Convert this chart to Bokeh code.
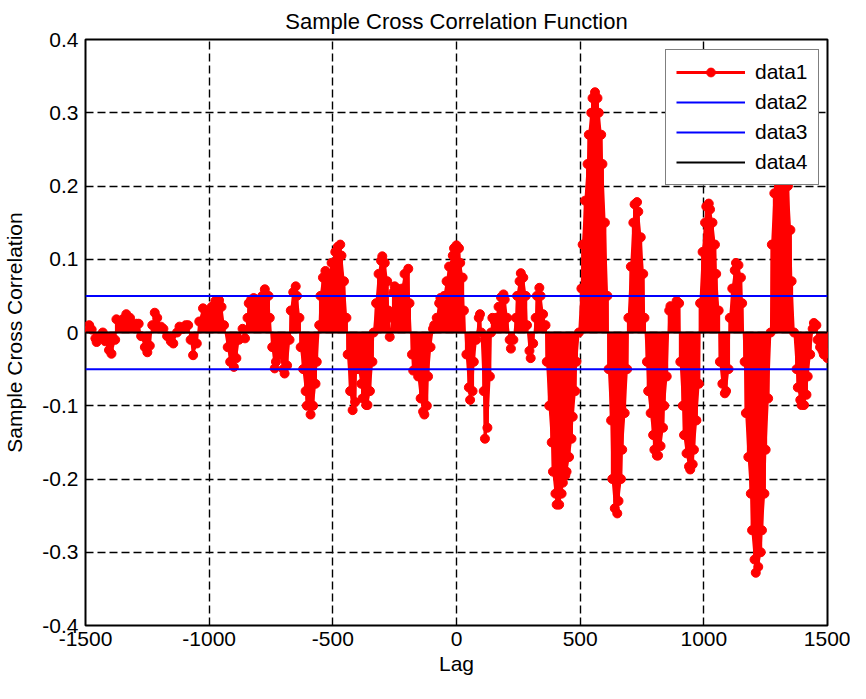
from bokeh.plotting import figure
from bokeh.models import Range1d, FixedTicker, Legend, LegendItem, ColumnDataSource
from bokeh.embed import file_html
from bokeh.resources import INLINE

# ---------------- data ----------------
lags = [
    -1500, -1485, -1475, -1460, -1455, -1440, -1430, -1420, -1405, -1395,
    -1380, -1375, -1360, -1350, -1335, -1320, -1310, -1295, -1285, -1275,
    -1260, -1250, -1240, -1230, -1220, -1210, -1195, -1185, -1170, -1155,
    -1145, -1130, -1120, -1105, -1095, -1085, -1075, -1065, -1050, -1040,
    -1025, -1015, -1005, -990, -975, -960, -950, -940, -925, -915,
    -900, -890, -880, -865, -855, -845, -840, -830, -820, -810,
    -795, -785, -775, -760, -755, -745, -735, -730, -720, -715,
    -700, -695, -685, -675, -670, -660, -650, -645, -635, -630,
    -620, -610, -605, -590, -580, -570, -565, -555, -550, -540,
    -530, -520, -510, -505, -490, -480, -470, -465, -455, -445,
    -440, -430, -420, -410, -405, -395, -385, -380, -365, -360,
    -350, -340, -335, -325, -315, -305, -300, -290, -280, -275,
    -270, -260, -255, -250, -240, -235, -220, -210, -195, -190,
    -180, -175, -165, -155, -145, -135, -130, -120, -115, -105,
    -95, -90, -80, -70, -65, -55, -50, -40, -30, -15,
    -10, 0, 10, 15, 25, 30, 40, 50, 55, 65,
    70, 80, 90, 95, 100, 110, 115, 125, 135, 140,
    145, 155, 160, 170, 180, 190, 195, 205, 215, 220,
    230, 240, 245, 255, 260, 270, 280, 285, 295, 300,
    310, 320, 325, 335, 340, 350, 360, 365, 375, 385,
    390, 400, 405, 415, 425, 430, 440, 445, 455, 465,
    470, 480, 485, 495, 505, 510, 520, 530, 535, 545,
    550, 560, 570, 575, 585, 590, 600, 610, 615, 625,
    630, 640, 650, 655, 665, 670, 680, 690, 695, 705,
    715, 720, 730, 735, 745, 755, 760, 770, 775, 785,
    795, 800, 810, 815, 825, 835, 840, 850, 860, 865,
    875, 880, 890, 900, 905, 915, 920, 930, 940, 945,
    955, 960, 970, 980, 985, 995, 1005, 1010, 1020, 1025,
    1035, 1045, 1050, 1060, 1065, 1075, 1085, 1090, 1100, 1105,
    1115, 1125, 1130, 1140, 1150, 1155, 1165, 1170, 1180, 1190,
    1195, 1205, 1210, 1220, 1230, 1235, 1245, 1250, 1260, 1270,
    1275, 1285, 1295, 1300, 1310, 1315, 1325, 1335, 1340, 1350,
    1355, 1365, 1375, 1380, 1390, 1395, 1405, 1415, 1420, 1430,
    1440, 1445, 1455, 1460, 1470, 1480, 1485, 1495, 1500,
]

xcf = [
    0.008, 0.010, 0.004, -0.008, -0.013, -0.006, 0.000, -0.012, -0.024, -0.029,
    -0.010, 0.018, 0.010, 0.018, 0.025, 0.020, 0.010, 0.012, 0.012, -0.005,
    -0.020, -0.027, -0.018, 0.010, 0.027, 0.020, 0.008, 0.005, -0.005, -0.012,
    -0.015, 0.000, 0.008, 0.005, 0.010, 0.010, -0.010, -0.031, -0.015, 0.015,
    0.033, 0.030, 0.020, 0.035, 0.043, 0.044, 0.035, 0.010, -0.020, -0.040,
    -0.047, -0.035, -0.010, 0.005, -0.008, 0.020, 0.040, 0.045, 0.047, 0.045,
    0.040, 0.050, 0.059, 0.050, 0.020, -0.020, -0.049, -0.040, -0.020, -0.030,
    -0.050, -0.056, -0.045, -0.010, 0.030, 0.055, 0.063, 0.050, 0.020, -0.020,
    -0.050, -0.080, -0.100, -0.112, -0.100, -0.070, -0.040, 0.010, 0.050, 0.075,
    0.084, 0.075, 0.080, 0.095, 0.110, 0.117, 0.120, 0.105, 0.070, 0.020,
    -0.030, -0.080, -0.106, -0.095, -0.050, -0.050, -0.070, -0.090, -0.099, -0.099,
    -0.080, -0.040, 0.000, 0.040, 0.080, 0.098, 0.104, 0.095, 0.070, 0.030,
    -0.006, 0.020, 0.055, 0.063, 0.060, 0.050, 0.060, 0.080, 0.087, 0.040,
    -0.030, -0.052, -0.050, -0.060, -0.090, -0.108, -0.112, -0.100, -0.060, -0.020,
    0.005, 0.010, 0.020, 0.040, 0.047, 0.040, 0.050, 0.070, 0.090, 0.105,
    0.115, 0.119, 0.115, 0.095, 0.075, 0.030, -0.030, -0.075, -0.092, -0.080,
    -0.040, -0.010, 0.020, 0.025, 0.000, -0.080, -0.145, -0.130, -0.060, 0.000,
    0.020, 0.015, 0.020, 0.035, 0.048, 0.052, 0.045, 0.020, -0.010, -0.022,
    -0.010, 0.020, 0.050, 0.070, 0.081, 0.075, 0.050, 0.010, -0.025, -0.035,
    -0.015, 0.020, 0.050, 0.061, 0.050, 0.025, 0.010, -0.040, -0.100, -0.150,
    -0.190, -0.220, -0.235, -0.235, -0.220, -0.205, -0.195, -0.190, -0.170, -0.145,
    -0.115, -0.080, -0.040, 0.000, 0.060, 0.120, 0.180, 0.230, 0.270, 0.300,
    0.320, 0.328, 0.320, 0.300, 0.270, 0.230, 0.150, 0.050, -0.050, -0.120,
    -0.200, -0.240, -0.247, -0.230, -0.200, -0.160, -0.110, -0.050, 0.020, 0.090,
    0.150, 0.175, 0.178, 0.165, 0.130, 0.080, 0.020, -0.040, -0.080, -0.110,
    -0.140, -0.160, -0.168, -0.168, -0.155, -0.130, -0.100, -0.060, 0.030, 0.036,
    0.030, 0.035, 0.043, 0.040, -0.040, -0.100, -0.140, -0.165, -0.183, -0.187,
    -0.180, -0.160, -0.120, -0.070, 0.040, 0.110, 0.150, 0.172, 0.176, 0.168,
    0.150, 0.120, 0.080, 0.030, -0.040, -0.070, -0.083, -0.080, -0.050, 0.020,
    0.060, 0.085, 0.095, 0.092, 0.075, 0.040, -0.040, -0.110, -0.170, -0.220,
    -0.270, -0.310, -0.328, -0.320, -0.300, -0.270, -0.220, -0.160, -0.090, 0.000,
    0.120, 0.190, 0.240, 0.280, 0.300, 0.300, 0.285, 0.250, 0.200, 0.140,
    0.070, 0.000, -0.050, -0.075, -0.092, -0.099, -0.099, -0.085, -0.060, -0.030,
    0.005, 0.013, 0.010, -0.010, -0.020, -0.025, -0.030, -0.028, -0.035,
]

lag_limits = [-1500, 1500]
upper_bound = [0.05, 0.05]
lower_bound = [-0.05, -0.05]
zero_level = [0.0, 0.0]

x_ticks = [-1500, -1000, -500, 0, 500, 1000, 1500]
x_tick_labels = ["-1500", "-1000", "-500", "0", "500", "1000", "1500"]
y_ticks = [-0.4, -0.3, -0.2, -0.1, 0, 0.1, 0.2, 0.3, 0.4]
y_tick_labels = ["-0.4", "-0.3", "-0.2", "-0.1", "0", "0.1", "0.2", "0.3", "0.4"]

assert len(lags) == len(xcf)

# ---------------- figure ----------------
FONT = "Liberation Sans"
FS = "21px"

p = figure(width=850, height=683, output_backend="svg", toolbar_location=None,
           x_range=Range1d(-1500, 1500), y_range=Range1d(-0.4, 0.4),
           min_border_left=82, min_border_right=23, min_border_top=38,
           min_border_bottom=58)

p.background_fill_color = "white"
p.border_fill_color = "white"
p.outline_line_color = "black"
p.outline_line_width = 2

p.title.text = "Sample Cross Correlation Function"
p.title.align = "center"
p.title.text_font = FONT
p.title.text_font_size = "22px"
p.title.text_font_style = "normal"
p.title.text_color = "black"
p.title.standoff = 12

src = ColumnDataSource(data=dict(lag=lags, xcf=xcf))

red = "#ff0000"
# filled area between the correlation curve and zero (closed along the zero line)
fill_x = lags + lag_limits[::-1]
fill_y = xcf + zero_level
fill_r = p.patch(x=fill_x, y=fill_y, fill_color=red, fill_alpha=1.0, line_color=red, line_width=1.5)
stem_r = p.segment(x0="lag", y0=0, x1="lag", y1="xcf", source=src,
                   line_color=red, line_width=3)
dot_r = p.scatter(x="lag", y="xcf", source=src, marker="circle", size=9,
                  fill_color=red, line_color=red)

blue = "#0000ff"
up_r = p.line(x=lag_limits, y=upper_bound, line_color=blue, line_width=2)
lo_r = p.line(x=lag_limits, y=lower_bound, line_color=blue, line_width=2)
zero_r = p.line(x=lag_limits, y=zero_level, line_color="black", line_width=2)

# axes
p.xaxis.ticker = FixedTicker(ticks=x_ticks)
p.yaxis.ticker = FixedTicker(ticks=y_ticks)
p.xaxis.major_label_overrides = {t: s for t, s in zip(x_ticks, x_tick_labels)}
p.yaxis.major_label_overrides = {t: s for t, s in zip(y_ticks, y_tick_labels)}

for ax in (p.xaxis[0], p.yaxis[0]):
    ax.axis_line_color = None
    ax.major_tick_in = 6
    ax.major_tick_out = 0
    ax.major_tick_line_color = "black"
    ax.major_tick_line_width = 1
    ax.minor_tick_line_color = None
    ax.major_label_text_font = FONT
    ax.major_label_text_font_size = FS
    ax.major_label_text_color = "black"
    ax.axis_label_text_font = FONT
    ax.axis_label_text_font_size = FS
    ax.axis_label_text_font_style = "normal"
    ax.axis_label_text_color = "black"

p.xaxis.major_label_standoff = 6
p.xaxis.axis_label = "Lag"
p.xaxis.axis_label_standoff = 3
p.yaxis.major_label_standoff = 7
p.yaxis.axis_label = "Sample Cross Correlation"
p.yaxis.axis_label_standoff = 13

for g in (p.xgrid[0], p.ygrid[0]):
    g.grid_line_color = "black"
    g.grid_line_dash = "8 4"
    g.grid_line_width = 1.4

legend = Legend(items=[
    LegendItem(label="data1", renderers=[stem_r, dot_r]),
    LegendItem(label="data2", renderers=[up_r]),
    LegendItem(label="data3", renderers=[lo_r]),
    LegendItem(label="data4", renderers=[zero_r]),
], location=(580, 440))
legend.padding = 10
legend.spacing = 6
legend.glyph_width = 69
legend.glyph_height = 22
legend.label_height = 22
legend.label_standoff = 10
legend.label_text_font = FONT
legend.label_text_font_size = FS
legend.label_text_color = "black"
legend.border_line_color = "black"
legend.border_line_width = 1.5
legend.background_fill_color = "white"
legend.background_fill_alpha = 1.0
p.add_layout(legend)

open("out.html", "w").write(file_html(p, INLINE))
